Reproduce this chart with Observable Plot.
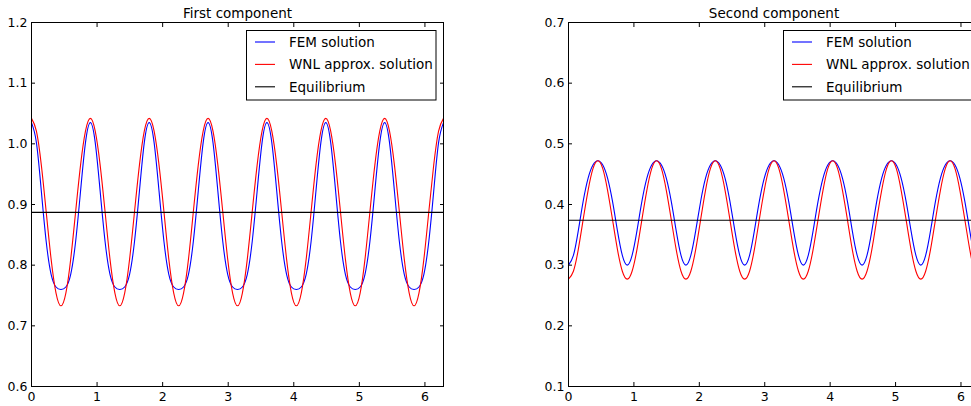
<!DOCTYPE html>
<html><head><meta charset="utf-8">
<script src="https://cdn.jsdelivr.net/npm/d3@7"></script>
<script src="https://cdn.jsdelivr.net/npm/@observablehq/plot@0.6"></script>
<style>
html,body{margin:0;padding:0;background:#fff;}
#wrap{position:relative;width:971px;height:406px;overflow:hidden;background:#fff;font-family:"DejaVu Sans",sans-serif;}
#wrap svg{position:absolute;top:0;}
</style></head>
<body><div id="wrap"></div>
<script>
// ---- data ----
const xs = [0,0.075,0.150,0.224,0.299,0.374,0.449,0.524,0.598,0.673,0.748,0.823,
0.898,0.972,1.047,1.122,1.197,1.272,1.346,1.421,1.496,1.571,1.646,1.720,
1.795,1.870,1.945,2.020,2.094,2.169,2.244,2.319,2.394,2.468,2.543,2.618,
2.693,2.768,2.842,2.917,2.992,3.067,3.142,3.216,3.291,3.366,3.441,3.516,
3.590,3.665,3.740,3.815,3.890,3.964,4.039,4.114,4.189,4.264,4.338,4.413,
4.488,4.563,4.638,4.712,4.787,4.862,4.937,5.012,5.086,5.161,5.236,5.311,
5.386,5.460,5.535,5.610,5.685,5.760,5.834,5.909,5.984,6.059,6.134,6.208,6.283];

const femFirst = [1.035,1.002,0.922,0.839,0.785,0.764,0.760,0.764,0.785,0.839,0.922,1.002,
1.035,1.002,0.922,0.839,0.785,0.764,0.760,0.764,0.785,0.839,0.922,1.002,
1.035,1.002,0.922,0.839,0.785,0.764,0.760,0.764,0.785,0.839,0.922,1.002,
1.035,1.002,0.922,0.839,0.785,0.764,0.760,0.764,0.785,0.839,0.922,1.002,
1.035,1.002,0.922,0.839,0.785,0.764,0.760,0.764,0.785,0.839,0.922,1.002,
1.035,1.002,0.922,0.839,0.785,0.764,0.760,0.764,0.785,0.839,0.922,1.002,
1.035,1.002,0.922,0.839,0.785,0.764,0.760,0.764,0.785,0.839,0.922,1.002,1.035];

const wnlFirst = [1.042,1.021,0.965,0.888,0.810,0.754,0.733,0.754,0.810,0.888,0.965,1.021,
1.042,1.021,0.965,0.888,0.810,0.754,0.733,0.754,0.810,0.888,0.965,1.021,
1.042,1.021,0.965,0.888,0.810,0.754,0.733,0.754,0.810,0.888,0.965,1.021,
1.042,1.021,0.965,0.888,0.810,0.754,0.733,0.754,0.810,0.888,0.965,1.021,
1.042,1.021,0.965,0.888,0.810,0.754,0.733,0.754,0.810,0.888,0.965,1.021,
1.042,1.021,0.965,0.888,0.810,0.754,0.733,0.754,0.810,0.888,0.965,1.021,
1.042,1.021,0.965,0.888,0.810,0.754,0.733,0.754,0.810,0.888,0.965,1.021,1.042];

const femSecond = [0.300,0.316,0.357,0.405,0.443,0.465,0.472,0.465,0.443,0.405,0.357,0.316,
0.300,0.316,0.357,0.405,0.443,0.465,0.472,0.465,0.443,0.405,0.357,0.316,
0.300,0.316,0.357,0.405,0.443,0.465,0.472,0.465,0.443,0.405,0.357,0.316,
0.300,0.316,0.357,0.405,0.443,0.465,0.472,0.465,0.443,0.405,0.357,0.316,
0.300,0.316,0.357,0.405,0.443,0.465,0.472,0.465,0.443,0.405,0.357,0.316,
0.300,0.316,0.357,0.405,0.443,0.465,0.472,0.465,0.443,0.405,0.357,0.316,
0.300,0.316,0.357,0.405,0.443,0.465,0.472,0.465,0.443,0.405,0.357,0.316,0.300];

const wnlSecond = [0.277,0.290,0.326,0.375,0.423,0.459,0.472,0.459,0.423,0.375,0.326,0.290,
0.277,0.290,0.326,0.375,0.423,0.459,0.472,0.459,0.423,0.375,0.326,0.290,
0.277,0.290,0.326,0.375,0.423,0.459,0.472,0.459,0.423,0.375,0.326,0.290,
0.277,0.290,0.326,0.375,0.423,0.459,0.472,0.459,0.423,0.375,0.326,0.290,
0.277,0.290,0.326,0.375,0.423,0.459,0.472,0.459,0.423,0.375,0.326,0.290,
0.277,0.290,0.326,0.375,0.423,0.459,0.472,0.459,0.423,0.375,0.326,0.290,
0.277,0.290,0.326,0.375,0.423,0.459,0.472,0.459,0.423,0.375,0.326,0.290,0.277];

const eqFirst = 0.887;
const eqSecond = 0.374;

const titles = ["First component", "Second component"];
const xTicks = [0, 1, 2, 3, 4, 5, 6];
const yTicksFirst = [0.6, 0.7, 0.8, 0.9, 1.0, 1.1, 1.2];
const yTicksSecond = [0.1, 0.2, 0.3, 0.4, 0.5, 0.6, 0.7];
const seriesNames = ["FEM solution", "WNL approx. solution", "Equilibrium"];
const seriesColors = ["#0000ff", "#ff0000", "#000000"];

// ---- drawing ----
const wrap = document.getElementById("wrap");

function panel(title, fem, wnl, eq, yTicks, left, marginLeft, marginRight) {
  const rows = xs.map((x, i) => ({x, fem: fem[i], wnl: wnl[i]}));
  const svg = Plot.plot({
    width: 460, height: 406,
    marginLeft, marginRight, marginTop: 22, marginBottom: 20,
    style: {fontFamily: "DejaVu Sans", fontSize: "12px", color: "#000", background: "transparent", overflow: "visible"},
    x: {domain: [0, 2 * Math.PI], label: null},
    y: {domain: [yTicks[0], yTicks[yTicks.length - 1]], label: null},
    marks: [
      Plot.line(rows, {x: "x", y: "fem", stroke: seriesColors[0], strokeWidth: 1.1, curve: "natural"}),
      Plot.line(rows, {x: "x", y: "wnl", stroke: seriesColors[1], strokeWidth: 1.1, curve: "natural"}),
      Plot.ruleY([eq], {stroke: seriesColors[2], strokeWidth: 1.1}),
      Plot.frame({stroke: "#000", strokeWidth: 1}),
      Plot.axisX(xTicks, {anchor: "bottom", label: null, tickSize: -4, tickPadding: 10, tickFormat: d3.format("d"), fontSize: 12.5}),
      Plot.axisX(xTicks, {anchor: "top", label: null, tickSize: -4, tickFormat: () => ""}),
      Plot.axisY(yTicks, {anchor: "left", label: null, tickSize: -4, tickPadding: 8, tickFormat: d3.format(".1f"), fontSize: 12.5}),
      Plot.axisY(yTicks, {anchor: "right", label: null, tickSize: -4, tickFormat: () => ""}),
      Plot.text([title], {frameAnchor: "top", dy: -5, lineAnchor: "bottom", fontSize: 13.5})
    ]
  });
  svg.style.left = left + "px";
  wrap.appendChild(svg);
}

panel(titles[0], femFirst, wnlFirst, eqFirst, yTicksFirst, 0, 31, 17);
panel(titles[1], femSecond, wnlSecond, eqSecond, yTicksSecond, 530, 38, 11);

// legends (overlay)
const ov = d3.create("svg").attr("width", 971).attr("height", 406).style("left", "0px");
[[246.5], [783.5]].forEach(([bx]) => {
  const g = ov.append("g").attr("transform", `translate(${bx},30.5)`);
  g.append("rect").attr("width", 189.5).attr("height", 69.5).attr("fill", "#fff").attr("stroke", "#000").attr("stroke-width", 1);
  seriesNames.forEach((name, i) => {
    const y = 11.5 + i * 22.4;
    g.append("line").attr("x1", 8.5).attr("x2", 28.5).attr("y1", y).attr("y2", y)
      .attr("stroke", seriesColors[i]).attr("stroke-width", 1.1);
    g.append("text").attr("x", 42.5).attr("y", y).attr("dy", "0.36em")
      .attr("font-family", "DejaVu Sans").attr("font-size", 13.5).attr("fill", "#000").text(name);
  });
});
wrap.appendChild(ov.node());
</script>
</body></html>
